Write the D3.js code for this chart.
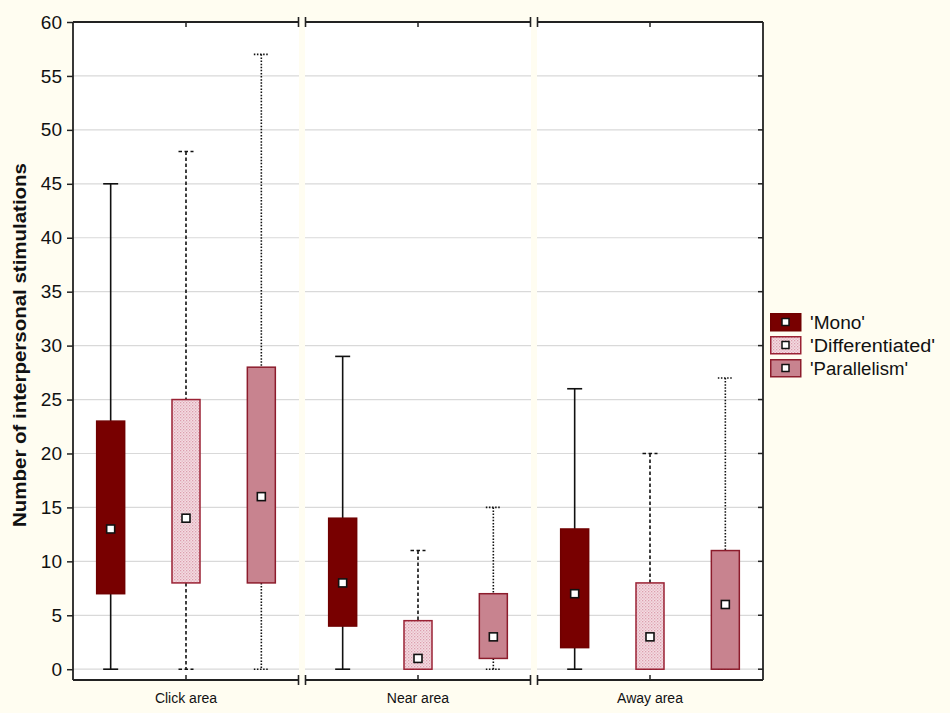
<!DOCTYPE html>
<html>
<head>
<meta charset="utf-8">
<script src="https://cdn.jsdelivr.net/npm/d3@7"></script>
<style>
  html, body { margin: 0; padding: 0; background: #FFFDF1; }
  svg { display: block; font-family: Arial, "Liberation Sans", sans-serif; }
</style>
</head>
<body>
<svg id="chart" width="950" height="713"></svg>
<script>
// ---- Data ----
const categories = ["Click area", "Near area", "Away area"];
const seriesNames = ["'Mono'", "'Differentiated'", "'Parallelism'"];
// [min, Q1, median, Q3, max] per category
const monoStats = [[0, 7, 13, 23, 45], [0, 4, 8, 14, 29], [0, 2, 7, 13, 26]];
const diffStats = [[0, 8, 14, 25, 48], [0, 0, 1, 4.5, 11], [0, 0, 3, 8, 20]];
const paraStats = [[0, 8, 16, 28, 57], [0, 1, 3, 7, 15], [0, 0, 6, 11, 27]];
const yTicks = [0, 5, 10, 15, 20, 25, 30, 35, 40, 45, 50, 55, 60];
const yLabel = "Number of interpersonal stimulations";

(function () {
const allStats = [monoStats, diffStats, paraStats];
const styles = [
  { fill: "#780000", stroke: "#700000", dash: null },
  { fill: "url(#hatch)", stroke: "#9A2234", dash: "3.5,2.5" },
  { fill: "#C8838F", stroke: "#8C1C2C", dash: "1.5,1.6" }
];
const legendWidths = [55, 125, 98];

// ---- Layout ----
const svg = d3.select("#chart");
const pL = 73, pR = 763, pT = 22, pB = 680, gap = 6;
const panelW = (pR - pL - 2 * gap) / 3;

const y = d3.scaleLinear().domain([-1, 60]).range([pB, pT]);

const panelX = d3.scaleOrdinal().domain(categories)
  .range(categories.map((c, i) => pL + i * (panelW + gap)));
const inner = d3.scalePoint().domain(seriesNames).range([0, panelW]).padding(0.5);

// pattern
const defs = svg.append("defs");
const pat = defs.append("pattern").attr("id", "hatch").attr("patternUnits", "userSpaceOnUse")
  .attr("width", 3).attr("height", 3);
pat.append("rect").attr("width", 3).attr("height", 3).attr("fill", "#F4DCE2");
pat.append("rect").attr("x", 0).attr("y", 0).attr("width", 1.3).attr("height", 1.3).attr("fill", "#DC9FAE");
pat.append("rect").attr("x", 1.5).attr("y", 1.5).attr("width", 1.3).attr("height", 1.3).attr("fill", "#E3B2BF");

// plot background
svg.append("rect").attr("x", pL).attr("y", pT).attr("width", pR - pL).attr("height", pB - pT)
  .attr("fill", "#ffffff");

// gridlines per panel
categories.forEach((cat) => {
  const x0 = panelX(cat);
  const g = svg.append("g").attr("transform", `translate(${x0},0)`);
  g.selectAll("line.grid").data(yTicks.filter(t => t < 60)).join("line")
    .attr("x1", 0).attr("x2", panelW)
    .attr("y1", d => y(d)).attr("y2", d => y(d))
    .attr("stroke", "#D9D9D9").attr("stroke-width", 1.2);
});

// separator bands
[0, 1].forEach(i => {
  const xs = panelX(categories[i]) + panelW;
  svg.append("rect").attr("x", xs).attr("y", pT).attr("width", gap).attr("height", pB - pT)
    .attr("fill", "#FFFDF1");
});

// boxes
categories.forEach((cat, ci) => {
  const x0 = panelX(cat);
  seriesNames.forEach((s, si) => {
    const st = allStats[si][ci];
    const stl = styles[si];
    const cx = x0 + inner(s);
    const bw = 28, cw = 15;
    const g = svg.append("g");
    g.append("line").attr("x1", cx).attr("x2", cx).attr("y1", y(st[4])).attr("y2", y(st[3]))
      .attr("stroke", "#111").attr("stroke-width", 1.6).attr("stroke-dasharray", stl.dash);
    g.append("line").attr("x1", cx).attr("x2", cx).attr("y1", y(st[1])).attr("y2", y(st[0]))
      .attr("stroke", "#111").attr("stroke-width", 1.6).attr("stroke-dasharray", stl.dash);
    [st[0], st[4]].forEach(v => {
      g.append("line").attr("x1", cx - cw / 2).attr("x2", cx + cw / 2).attr("y1", y(v)).attr("y2", y(v))
        .attr("stroke", "#111").attr("stroke-width", 1.6).attr("stroke-dasharray", stl.dash);
    });
    g.append("rect").attr("x", cx - bw / 2).attr("y", y(st[3]))
      .attr("width", bw).attr("height", Math.max(0.5, y(st[1]) - y(st[3])))
      .attr("fill", stl.fill).attr("stroke", stl.stroke).attr("stroke-width", 1.5);
    g.append("rect").attr("x", cx - 4).attr("y", y(st[2]) - 4).attr("width", 8).attr("height", 8)
      .attr("fill", "#fff").attr("stroke", "#111").attr("stroke-width", 1.6);
  });
});

const axisColor = "#222";
svg.append("line").attr("x1", pL).attr("x2", pL).attr("y1", pT).attr("y2", pB)
  .attr("stroke", axisColor).attr("stroke-width", 1.8);
svg.append("line").attr("x1", pR).attr("x2", pR).attr("y1", pT).attr("y2", pB)
  .attr("stroke", axisColor).attr("stroke-width", 1.8);

categories.forEach((cat, ci) => {
  const x0 = panelX(cat), x1 = x0 + panelW;
  [pT, pB].forEach(yy => {
    svg.append("line").attr("x1", x0).attr("x2", x1).attr("y1", yy).attr("y2", yy)
      .attr("stroke", axisColor).attr("stroke-width", 1.8);
  });
  if (ci > 0) {
    [pT, pB].forEach(yy => {
      svg.append("line").attr("x1", x0 + 0.5).attr("x2", x0 + 0.5).attr("y1", yy - 5).attr("y2", yy + 5)
        .attr("stroke", axisColor).attr("stroke-width", 1.6);
    });
  }
  if (ci < 2) {
    [pT, pB].forEach(yy => {
      svg.append("line").attr("x1", x1 - 0.5).attr("x2", x1 - 0.5).attr("y1", yy - 5).attr("y2", yy + 5)
        .attr("stroke", axisColor).attr("stroke-width", 1.6);
    });
  }
  const cxm = x0 + panelW / 2;
  svg.append("line").attr("x1", cxm).attr("x2", cxm).attr("y1", pB).attr("y2", pB - 5)
    .attr("stroke", axisColor).attr("stroke-width", 1.5);
  svg.append("line").attr("x1", cxm).attr("x2", cxm).attr("y1", pT).attr("y2", pT + 5)
    .attr("stroke", axisColor).attr("stroke-width", 1.5);
  svg.append("text").attr("x", cxm).attr("y", pB + 23).attr("text-anchor", "middle")
    .attr("font-size", 14).attr("fill", "#111").text(cat);
});

const yAxis = d3.axisLeft(y).tickValues(yTicks).tickSize(6).tickPadding(5).tickFormat(d3.format("d"));
const ya = svg.append("g").attr("transform", `translate(${pL},0)`).call(yAxis);
ya.select(".domain").remove();
ya.selectAll(".tick line").attr("stroke", axisColor).attr("stroke-width", 1.5);
ya.selectAll(".tick text").attr("font-size", 19).attr("fill", "#111")
  .attr("font-family", "Arial, 'Liberation Sans', sans-serif");

svg.append("g").selectAll("line").data(yTicks).join("line")
  .attr("x1", pR - 5).attr("x2", pR).attr("y1", d => y(d)).attr("y2", d => y(d))
  .attr("stroke", axisColor).attr("stroke-width", 1.5);

svg.append("text").attr("transform", `translate(26,345) rotate(-90)`)
  .attr("text-anchor", "middle").attr("font-size", 19).attr("font-weight", "bold")
  .attr("textLength", 364).attr("lengthAdjust", "spacingAndGlyphs")
  .attr("fill", "#111").text(yLabel);

const lg = svg.append("g").attr("transform", "translate(770,313)");
seriesNames.forEach((s, i) => {
  const st = styles[i];
  const gy = i * 23;
  lg.append("rect").attr("x", 0.75).attr("y", gy + 0.75).attr("width", 30).attr("height", 17)
    .attr("fill", st.fill).attr("stroke", st.stroke).attr("stroke-width", 1.5);
  lg.append("rect").attr("x", 12).attr("y", gy + 5.5).attr("width", 7).attr("height", 7)
    .attr("fill", "#fff").attr("stroke", "#111").attr("stroke-width", 1.5);
  lg.append("text").attr("x", 40).attr("y", gy + 16).attr("font-size", 18)
    .attr("textLength", legendWidths[i]).attr("lengthAdjust", "spacingAndGlyphs")
    .attr("fill", "#111").text(s);
});
})();
</script>
</body>
</html>
